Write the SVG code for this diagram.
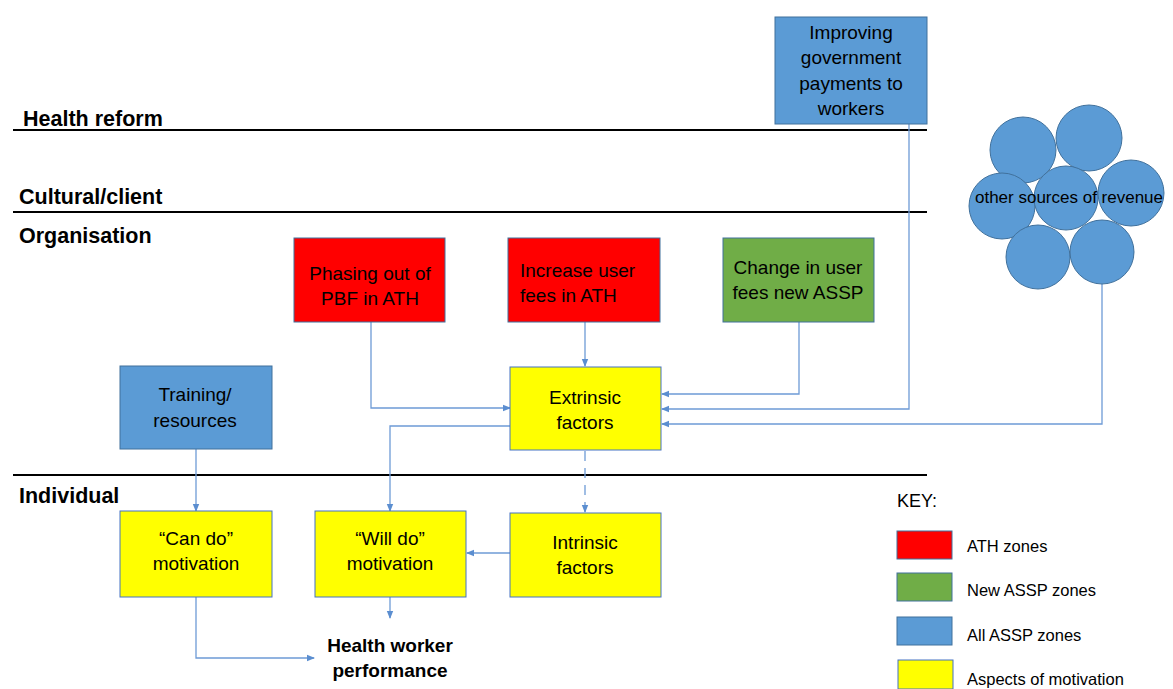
<svg xmlns="http://www.w3.org/2000/svg" width="1173" height="689" viewBox="0 0 1173 689">
  <defs>
    <marker id="arrow" viewBox="0 0 8 8" refX="7" refY="4" markerWidth="8" markerHeight="8" markerUnits="userSpaceOnUse" orient="auto">
      <path d="M0,0.8 L8,4 L0,7.2 Z" fill="#5B8ED0"/>
    </marker>
    <style>
      text { font-family: "Liberation Sans", Arial, sans-serif; fill: #000; }
      .lvl { font-size: 21.5px; font-weight: bold; }
      .box { font-size: 19px; text-anchor: middle; }
      .boxl { font-size: 19px; }
      .key { font-size: 16.5px; }
      .sep { stroke: #000; stroke-width: 2; }
      .red { fill: #FF0000; stroke: #41719C; stroke-width: 1; }
      .green { fill: #70AD47; stroke: #41719C; stroke-width: 1; }
      .blue { fill: #5B9BD5; stroke: #41719C; stroke-width: 1; }
      .yellow { fill: #FFFF00; stroke: #4472C4; stroke-width: 1; }
      .conn { fill: none; stroke: #6E9BD6; stroke-width: 1.3; marker-end: url(#arrow); }
      .bubble { fill: #5B9BD5; stroke: #41719C; stroke-width: 1; }
    </style>
  </defs>

  <rect width="1173" height="689" fill="#fff"/>

  <!-- level bands -->
  <g id="levels">
    <line class="sep" x1="13" y1="130" x2="927" y2="130"/>
    <line class="sep" x1="13" y1="212" x2="927" y2="212"/>
    <line class="sep" x1="13" y1="475" x2="927" y2="475"/>
    <text class="lvl" x="23" y="126">Health reform</text>
    <text class="lvl" x="19" y="204">Cultural/client</text>
    <text class="lvl" x="19" y="243">Organisation</text>
    <text class="lvl" x="19" y="503">Individual</text>
  </g>

  <!-- connectors -->
  <g id="connectors">
    <polyline class="conn" points="371,322 371,408 510,408"/>
    <polyline class="conn" points="585,322 585,366"/>
    <polyline class="conn" points="799,322 799,394 662,394"/>
    <polyline class="conn" points="909,124 909,409 662,409"/>
    <polyline class="conn" points="1102,284 1102,424 662,424"/>
    <polyline class="conn" points="510,426 390,426 390,511"/>
    <polyline class="conn" points="585,451 585,512" stroke-dasharray="10 7" stroke-width="1.8"/>
    <polyline class="conn" points="196,449 196,511"/>
    <polyline class="conn" points="510,553 467,553"/>
    <polyline class="conn" points="390,597 390,618"/>
    <polyline class="conn" points="196,597 196,658 314,658"/>
  </g>

  <g id="gov-payments">
    <rect class="blue" x="775" y="17" width="152" height="107"/>
    <text class="box" x="851" y="39" font-size="19.8">Improving</text>
    <text class="box" x="851" y="64" font-size="19.8">government</text>
    <text class="box" x="851" y="90" font-size="19.8">payments to</text>
    <text class="box" x="851" y="115" font-size="19.8">workers</text>
  </g>

  <g id="other-revenue">
    <circle class="bubble" cx="1023" cy="150" r="33"/>
    <circle class="bubble" cx="1089" cy="138" r="33"/>
    <circle class="bubble" cx="1002" cy="206" r="33"/>
    <circle class="bubble" cx="1066" cy="198" r="32"/>
    <circle class="bubble" cx="1131" cy="193" r="33"/>
    <circle class="bubble" cx="1038" cy="257" r="32"/>
    <circle class="bubble" cx="1102" cy="252" r="32"/>
    <text x="1069" y="203" font-size="17" text-anchor="middle">other sources of revenue</text>
  </g>

  <g id="phasing-pbf">
    <rect class="red" x="294" y="238" width="151" height="84"/>
    <text class="box" x="370" y="280">Phasing out of</text>
    <text class="box" x="370" y="305">PBF in ATH</text>
  </g>

  <g id="increase-fees">
    <rect class="red" x="508" y="238" width="152" height="84"/>
    <text class="boxl" x="520" y="277">Increase user</text>
    <text class="boxl" x="520" y="302">fees in ATH</text>
  </g>

  <g id="change-fees">
    <rect class="green" x="723" y="238" width="151" height="84"/>
    <text class="box" x="798" y="274">Change in user</text>
    <text class="box" x="798" y="299">fees new ASSP</text>
  </g>

  <g id="training">
    <rect class="blue" x="120" y="366" width="152" height="83"/>
    <text class="box" x="195" y="401">Training/</text>
    <text class="box" x="195" y="427">resources</text>
  </g>

  <g id="extrinsic">
    <rect class="yellow" x="510" y="367" width="151" height="83"/>
    <text class="box" x="585" y="404">Extrinsic</text>
    <text class="box" x="585" y="429">factors</text>
  </g>

  <g id="can-do">
    <rect class="yellow" x="120" y="511" width="152" height="86"/>
    <text class="box" x="196" y="545">“Can do”</text>
    <text class="box" x="196" y="570">motivation</text>
  </g>

  <g id="will-do">
    <rect class="yellow" x="315" y="511" width="151" height="86"/>
    <text class="box" x="390" y="545">“Will do”</text>
    <text class="box" x="390" y="570">motivation</text>
  </g>

  <g id="intrinsic">
    <rect class="yellow" x="510" y="513" width="151" height="84"/>
    <text class="box" x="585" y="549">Intrinsic</text>
    <text class="box" x="585" y="574">factors</text>
  </g>

  <g id="performance">
    <text x="390" y="652" font-size="19" font-weight="bold" text-anchor="middle">Health worker</text>
    <text x="390" y="677" font-size="19" font-weight="bold" text-anchor="middle">performance</text>
  </g>

  <g id="key">
    <text x="897" y="507" font-size="18">KEY:</text>
    <rect class="red" x="897" y="531" width="55" height="28"/>
    <rect class="green" x="897" y="573" width="55" height="28"/>
    <rect class="blue" x="897" y="617" width="55" height="28"/>
    <rect class="yellow" x="898" y="660" width="55" height="29"/>
    <text class="key" x="967" y="552">ATH zones</text>
    <text class="key" x="967" y="596">New ASSP zones</text>
    <text class="key" x="967" y="641">All ASSP zones</text>
    <text class="key" x="967" y="685">Aspects of motivation</text>
  </g>
</svg>
